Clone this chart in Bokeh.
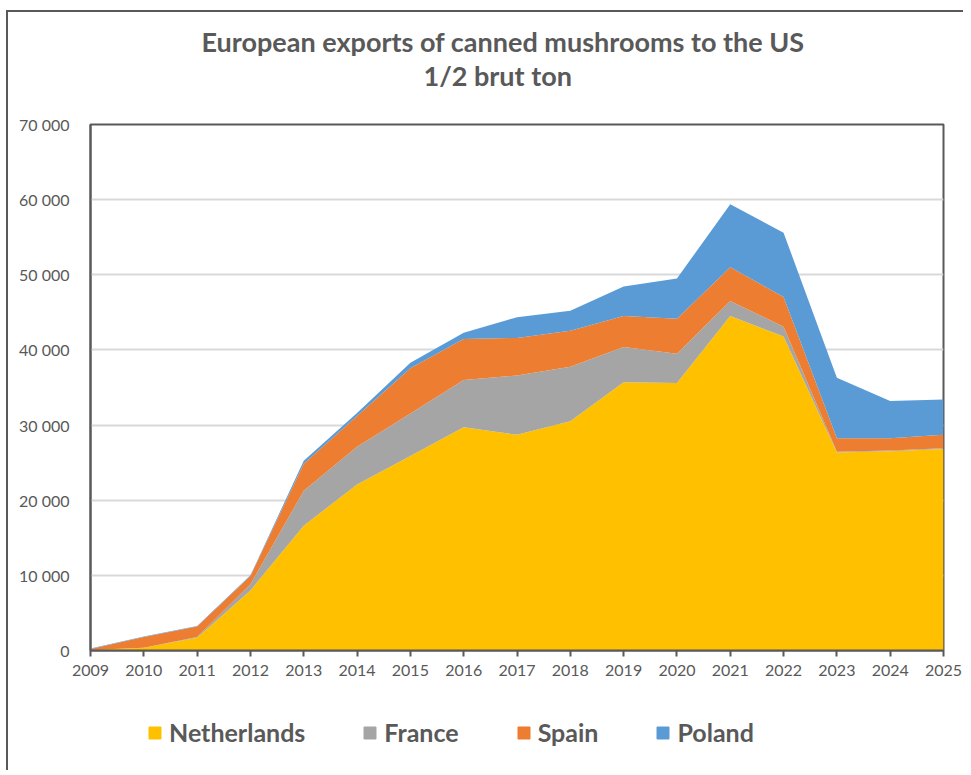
from bokeh.plotting import figure
from bokeh.layouts import column
from bokeh.models import Range1d, FixedTicker, Legend, LegendItem, Title, ColumnDataSource
from bokeh.embed import file_html
from bokeh.resources import INLINE

years = list(range(2009, 2026))
netherlands = [50, 350, 1700, 8000, 16600, 22100, 25900, 29700, 28700, 30500,
               35700, 35600, 44500, 41800, 26350, 26500, 26800]
france = [0, 0, 100, 800, 4650, 5000, 5650, 6300, 7900, 7250,
          4700, 3900, 2000, 1300, 100, 100, 100]
spain = [150, 1450, 1400, 1100, 3600, 4100, 6000, 5450, 5000, 4800,
         4100, 4650, 4500, 3950, 1800, 1650, 1800]
poland = [50, 60, 60, 100, 400, 400, 750, 850, 2750, 2650,
          3950, 5350, 8400, 8550, 8050, 4950, 4700]

series_names = ["Netherlands", "France", "Spain", "Poland"]
colors = ["#FFC000", "#A5A5A5", "#ED7D31", "#5B9BD5"]

y_ticks = [0, 10000, 20000, 30000, 40000, 50000, 60000, 70000]
y_tick_labels = ["0", "10 000", "20 000", "30 000", "40 000", "50 000", "60 000", "70 000"]
x_tick_labels = [str(y) for y in years]

title_text = "European exports of canned mushrooms to the US"
subtitle_text = "1/2 brut ton"

source = ColumnDataSource(dict(year=years, Netherlands=netherlands, France=france,
                               Spain=spain, Poland=poland))

GREY = "#595959"
FONT = "Lato"

# ---------------- main chart ----------------
p = figure(width=955, height=678, x_range=Range1d(years[0], years[-1]),
           y_range=Range1d(y_ticks[0], y_ticks[-1]),
           output_backend="svg", toolbar_location=None,
           min_border_left=82, min_border_right=20, min_border_top=112,
           min_border_bottom=40)
p.title = None

renderers = p.varea_stack(stackers=series_names, x="year", color=colors, source=source)

p.xaxis.ticker = FixedTicker(ticks=years)
p.xaxis.major_label_overrides = {y: lbl for y, lbl in zip(years, x_tick_labels)}
p.yaxis.ticker = FixedTicker(ticks=y_ticks)
p.yaxis.major_label_overrides = {t: lbl for t, lbl in zip(y_ticks, y_tick_labels)}
for ax in (p.xaxis[0], p.yaxis[0]):
    ax.axis_line_color = GREY
    ax.axis_line_width = 2
    ax.major_label_text_font = FONT
    ax.major_label_text_color = GREY
    ax.minor_tick_line_color = None
p.xaxis.major_label_text_font_size = "16px"
p.yaxis.major_label_text_font_size = "16px"
p.xaxis.major_tick_line_color = GREY
p.xaxis.major_tick_line_width = 2
p.xaxis.major_tick_in = 0
p.xaxis.major_tick_out = 6
p.xaxis.major_label_standoff = 8
p.yaxis.major_tick_line_color = None
p.yaxis.major_label_standoff = 15

p.xgrid.visible = False
p.ygrid.grid_line_color = "#d9d9d9"
p.ygrid.grid_line_width = 2

p.outline_line_color = GREY
p.outline_line_width = 2
p.background_fill_color = "white"
p.border_fill_color = "white"

spacer = Title(text=" ", text_font_size="29px", standoff=0)
sub = Title(text=subtitle_text, align="left", text_font=FONT, text_font_style="bold",
            text_font_size="27px", text_color=GREY, offset=333, standoff=-2)
main = Title(text=title_text, align="left", text_font=FONT, text_font_style="bold",
             text_font_size="27px", text_color=GREY, offset=111, standoff=0)
p.add_layout(spacer, "above")
p.add_layout(sub, "above")
p.add_layout(main, "above")

# ---------------- legend strip ----------------
lg = figure(width=955, height=80, x_range=Range1d(0, 1), y_range=Range1d(0, 1),
            output_backend="svg", toolbar_location=None,
            min_border_left=0, min_border_right=0, min_border_top=0, min_border_bottom=0)
lg.title = None
lg.axis.visible = False
lg.grid.visible = False
lg.outline_line_color = None
lg.background_fill_color = "white"
lg.border_fill_color = "white"
# key swatches: quads placed outside the visible range, only their legend glyphs show
key_renderers = [lg.quad(left=[5], right=[6], bottom=[5], top=[6], color=c) for c in colors]

legend = Legend(items=[LegendItem(label=n, renderers=[r]) for n, r in zip(series_names, key_renderers)],
                orientation="horizontal", location=(57, 23),
                glyph_width=15, glyph_height=15, label_standoff=7,
                label_text_font=FONT, label_text_font_style="bold",
                label_text_font_size="25px", label_text_color=GREY,
                spacing=57, border_line_color=None, background_fill_alpha=0,
                padding=0, margin=0)
lg.add_layout(legend, "center")

layout = column(p, lg, spacing=0,
                styles={"border-top": "2px solid #595959", "border-left": "2px solid #595959",
                        "margin-top": "10px", "margin-left": "6px", "background-color": "white"})

open("out.html", "w").write(file_html(layout, INLINE))
